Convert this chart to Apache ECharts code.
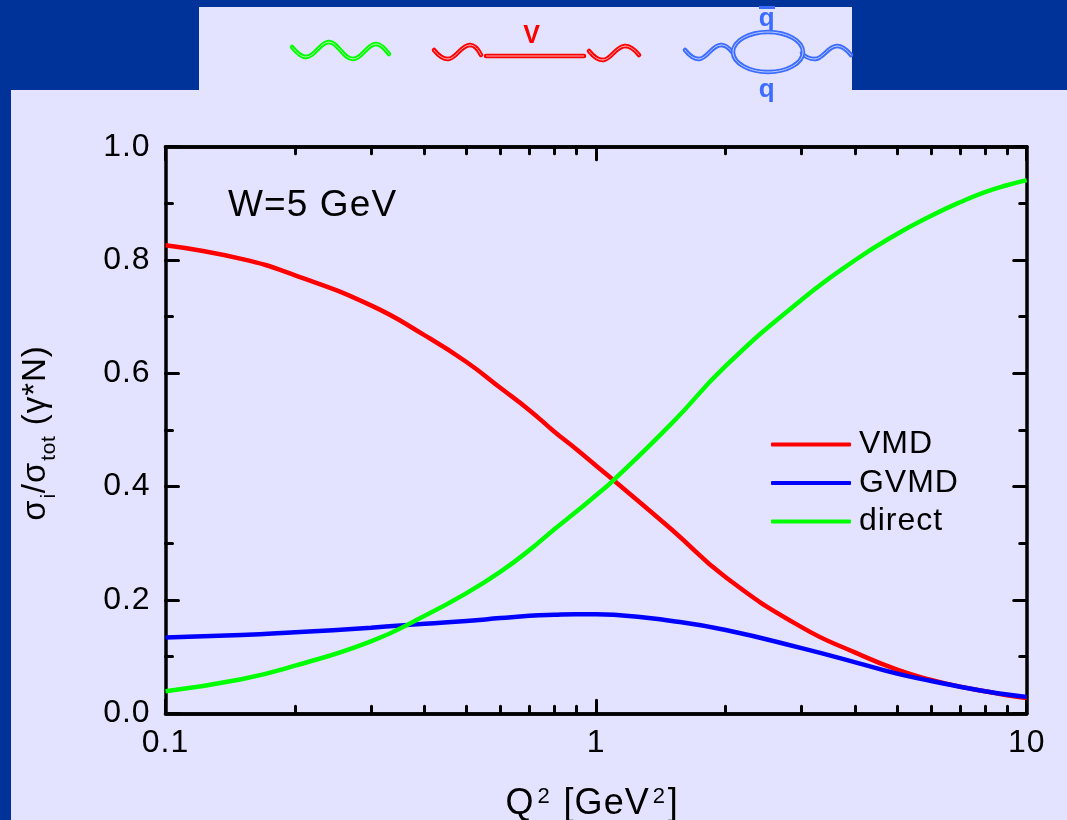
<!DOCTYPE html>
<html><head><meta charset="utf-8">
<style>html,body{margin:0;padding:0;background:#003399}#c{width:1067px;height:820px}</style>
<script src="https://cdn.jsdelivr.net/npm/echarts@6/dist/echarts.min.js"></script>
</head><body><div id="c"></div>
<script>
const q2 = [0.1,0.15,0.2,0.3,0.4,0.5,0.6,0.7,0.8,0.9,1,1.1,1.5,2,3,4,5,6,7,8,9,10];
const vmd = [0.826,0.802,0.773,0.72,0.667,0.62,0.574,0.535,0.497,0.466,0.437,0.411,0.324,0.24,0.152,0.107,0.077,0.059,0.047,0.039,0.032,0.027];
const gvmd = [0.134,0.138,0.143,0.151,0.158,0.163,0.168,0.172,0.174,0.175,0.175,0.174,0.163,0.147,0.115,0.09,0.07,0.057,0.047,0.039,0.033,0.029];
const direct = [0.039,0.06,0.084,0.127,0.172,0.212,0.25,0.288,0.325,0.356,0.385,0.412,0.512,0.613,0.73,0.80,0.846,0.878,0.902,0.92,0.932,0.941];
const majorX = [0.1,1,10];
const minorX = [0.2,0.3,0.4,0.5,0.6,0.7,0.8,0.9,2,3,4,5,6,7,8,9];
const ink='#000', font='"Liberation Sans", Arial, sans-serif';
// The reference text is set with slight tracking: apply it to every canvas text run.
const fontProp = Object.getOwnPropertyDescriptor(CanvasRenderingContext2D.prototype,'font');
Object.defineProperty(CanvasRenderingContext2D.prototype,'font',{
  configurable:true,
  get(){return fontProp.get.call(this);},
  set(v){fontProp.set.call(this,v); this.letterSpacing='0.03em';}
});
const pair = a => a.map((v,i)=>[q2[i],v]);
const frame = {lineStyle:{color:ink,width:3.5}};
const xAxisOf = (pos,vals,len,labels) => ({
  type:'log',logBase:10,min:0.1,max:10,position:pos,
  axisLine:{show:true,onZero:false,...frame},
  splitLine:{show:false},minorTick:{show:false},
  axisTick:{show:true,inside:true,length:len,customValues:vals,lineStyle:{color:ink,width:3,cap:'round'}},
  axisLabel: labels?{show:true,customValues:vals,margin:13,fontSize:32,color:ink,fontFamily:font,showMinLabel:true,showMaxLabel:true,alignMinLabel:'center',alignMaxLabel:'center',formatter:v=>String(v)}:{show:false}
});
const yAxisOf = (pos,labels) => ({
  type:'value',min:0,max:1,interval:0.2,position:pos,
  axisLine:{show:true,onZero:false,...frame},splitLine:{show:false},
  axisTick:{show:true,inside:true,length:13,lineStyle:{color:ink,width:3,cap:'round'}},
  minorTick:{show:true,splitNumber:2,length:7,lineStyle:{color:ink,width:3,cap:'round'}},
  axisLabel: labels?{show:true,margin:15,fontSize:32,color:ink,fontFamily:font,formatter:v=>v.toFixed(1)}:{show:false}
});
// Feynman diagram strokes: each path is a start point followed by cubic segments
const cubic = (p,c,w) => {
  const out=[]; let x=p[0], y=p[1];
  for(let i=2;i<p.length;i+=6){
    out.push({type:'bezierCurve',shape:{x1:x,y1:y,cpx1:p[i],cpy1:p[i+1],cpx2:p[i+2],cpy2:p[i+3],x2:p[i+4],y2:p[i+5]},
      style:{fill:'none',stroke:c,lineWidth:w,lineCap:'round'}});
    x=p[i+4]; y=p[i+5];
  }
  return out;
};
const wave = (p,c,h) => [...cubic(p,c,4.5),...cubic(p,h,1)];
const bar = (x1,x2,y,c,h) => [
  {type:'line',shape:{x1,y1:y,x2,y2:y},style:{stroke:c,lineWidth:4.5,lineCap:'round'}},
  {type:'line',shape:{x1,y1:y,x2,y2:y},style:{stroke:h,lineWidth:1}}
];
const green='#00ff00', red='#ff0000', sky='#3c6cff';
const graphic = [
  {type:'rect',z:-10,shape:{x:11,y:90,width:1056,height:730},style:{fill:'#e3e3ff'}},
  {type:'rect',z:-10,shape:{x:199,y:7,width:653,height:83},style:{fill:'#e3e3ff'}},
  ...wave([292,47, 297,53,301,57,306,57, 315,57,320,42,329,42, 338,42,343,59,353,59, 362,59,367,44,376,44, 381,44,385,49,389,54],green,'#a8ffa8'),
  ...wave([434,50, 438,55,442,59,448,59, 456,59,461,45,470,45, 475,45,478,49,481,55],red,'#ffb0b0'),
  ...bar(486,584,56,red,'#ffb0b0'),
  ...wave([589,51, 593,56,597,60,603,60, 611,60,616,46,625,46, 630,46,635,50,639,55],red,'#ffb0b0'),
  ...wave([685,50, 689,55,693,59,699,59, 707,59,712,45,721,45, 726,45,729,48,732,52],sky,'#b8ccff'),
  ...wave([802,53, 805,57,809,59,815,59, 823,59,828,46,837,46, 842,46,847,50,851,55],sky,'#b8ccff'),
  {type:'ellipse',shape:{cx:768,cy:52,rx:35,ry:20},style:{fill:'none',stroke:sky,lineWidth:4.5}},
  {type:'ellipse',shape:{cx:768,cy:52,rx:35,ry:20},style:{fill:'none',stroke:'#b8ccff',lineWidth:1}},
  {type:'text',style:{x:532,y:36,text:'V',fill:red,font:'bold 25px '+font,align:'center',verticalAlign:'middle'}},
  {type:'text',style:{x:767,y:19,text:'q',fill:sky,font:'bold 26px '+font,align:'center',verticalAlign:'middle'}},
  {type:'rect',shape:{x:759,y:6,width:16,height:3},style:{fill:sky}},
  {type:'text',style:{x:767,y:90,text:'q',fill:sky,font:'bold 26px '+font,align:'center',verticalAlign:'middle'}},
  {type:'text',style:{x:228,y:206,text:'W=5 GeV',fill:ink,font:'37px '+font,align:'left',verticalAlign:'middle'}}
];
const lineOf = (name,vals,color) => ({
  name,type:'line',data:pair(vals),smooth:0.5,showSymbol:false,symbol:'none',xAxisIndex:0,yAxisIndex:0,
  clip:true,z:1,lineStyle:{color,width:4.5},itemStyle:{color}
});
const chart = echarts.init(document.getElementById('c'),null,{renderer:'canvas'});
const subRich = {
  sub:{fontSize:21,fontFamily:font,color:ink,verticalAlign:'bottom',padding:[28,0,0,1]},
  sup:{fontSize:22,fontFamily:font,color:ink,verticalAlign:'top',padding:[0,2,12,3]}
};
chart.setOption({
  animation:false,backgroundColor:'#003399',
  grid:{left:165.5,right:40.3,top:146.7,bottom:106.7,containLabel:false,outerBoundsMode:'none'},
  legend:{show:true,orient:'vertical',left:766,top:423,icon:'roundRect',itemWidth:80,itemHeight:4,itemGap:5.5,
    data:['VMD','GVMD','direct'],
    textStyle:{fontSize:32,color:ink,fontFamily:font,padding:[0,0,0,3]},itemStyle:{borderWidth:0}},
  xAxis:[
    {...xAxisOf('bottom',majorX,13,true),
     name:'Q{sup|2} [GeV{sup|2}]',nameLocation:'middle',nameGap:72,
     nameTextStyle:{fontSize:36,color:ink,fontFamily:font,rich:subRich,padding:[0,8,0,0]}},
    xAxisOf('bottom',minorX,7,false),
    xAxisOf('top',majorX,13,false),
    xAxisOf('top',minorX,7,false)
  ],
  yAxis:[
    {...yAxisOf('left',true),
     name:'σ{sub|i}/σ{sub|tot} (γ*N)',nameLocation:'middle',nameGap:105,nameRotate:90,
     nameTextStyle:{fontSize:33,color:ink,fontFamily:font,rich:subRich,padding:[0,6,0,0]}},
    yAxisOf('right',false)
  ],
  series:[lineOf('VMD',vmd,'#ff0000'),lineOf('GVMD',gvmd,'#0000ff'),lineOf('direct',direct,'#00ff00')],
  graphic
});
</script></body></html>
